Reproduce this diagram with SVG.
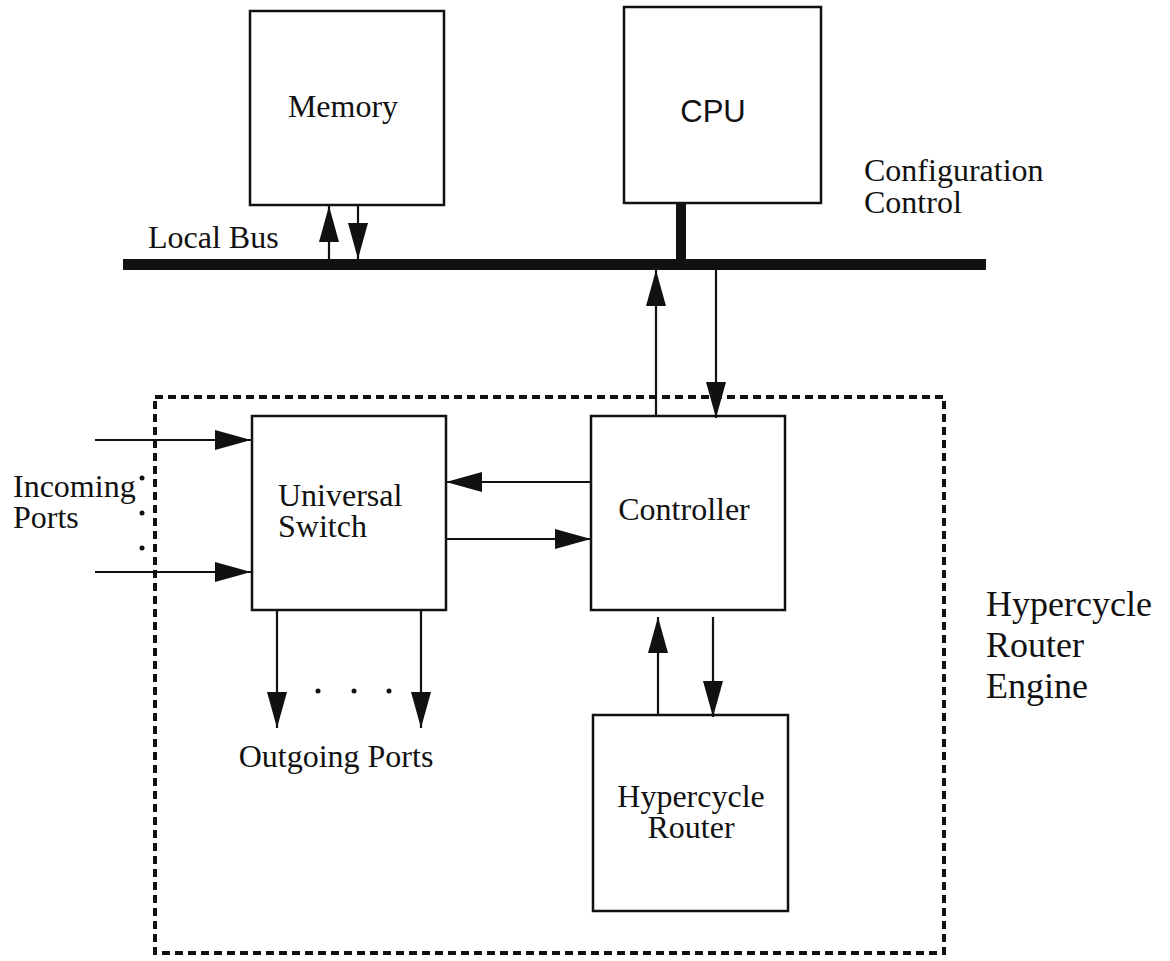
<svg xmlns="http://www.w3.org/2000/svg" width="1170" height="961" viewBox="0 0 1170 961">
<style>
.box{fill:#fff;stroke:#111;stroke-width:2.5}
.t{font-family:"Liberation Serif","Times New Roman",serif;font-size:32px;fill:#111}
.s{font-family:"Liberation Sans",Arial,sans-serif;font-size:31px;fill:#111}
.c{text-anchor:middle}
.ln{stroke:#111;stroke-width:2.2;fill:none;marker-end:url(#ah)}
.dash{fill:none;stroke:#111;stroke-width:4;stroke-dasharray:8 5}
</style>
<defs>
<marker id="ah" markerUnits="userSpaceOnUse" viewBox="0 0 36 20" refX="36" refY="10" markerWidth="36" markerHeight="20" orient="auto">
<path d="M0,0 L36,10 L0,20 z" fill="#111"/>
</marker>
</defs>
<rect width="1170" height="961" fill="#fff"/>

<g id="engine-boundary">
<rect class="dash" x="155" y="397" width="789" height="556"/>
<text class="t" style="font-size:36px" x="986" y="616">Hypercycle</text>
<text class="t" style="font-size:36px" x="986" y="657">Router</text>
<text class="t" style="font-size:36px" x="986" y="698">Engine</text>
</g>

<g id="local-bus">
<rect x="123" y="259" width="863" height="11" fill="#111"/>
<text class="t" x="148" y="248">Local Bus</text>
</g>

<g id="memory">
<rect class="box" x="250" y="11" width="194" height="194"/>
<text class="t c" x="343" y="117">Memory</text>
</g>

<g id="cpu">
<rect class="box" x="624" y="7" width="197" height="196"/>
<text class="s c" x="713" y="122">CPU</text>
<rect x="676" y="203" width="10" height="58" fill="#111"/>
</g>

<g id="config-label">
<text class="t" x="864" y="181">Configuration</text>
<text class="t" x="864" y="213">Control</text>
</g>

<g id="universal-switch">
<rect class="box" x="252" y="416" width="194" height="194"/>
<text class="t" x="278" y="506">Universal</text>
<text class="t" x="278" y="537">Switch</text>
</g>

<g id="controller">
<rect class="box" x="591" y="416" width="194" height="194"/>
<text class="t c" x="684" y="520">Controller</text>
</g>

<g id="hypercycle-router">
<rect class="box" x="593" y="715" width="195" height="196"/>
<text class="t c" x="691" y="807">Hypercycle</text>
<text class="t c" x="691" y="838">Router</text>
</g>

<g id="incoming-ports">
<text class="t" x="13" y="497">Incoming</text>
<text class="t" x="13" y="528">Ports</text>
<circle cx="142" cy="478" r="2.5" fill="#111"/>
<circle cx="142" cy="513" r="2.5" fill="#111"/>
<circle cx="142" cy="548" r="2.5" fill="#111"/>
</g>

<g id="outgoing-ports">
<text class="t c" x="336" y="767">Outgoing Ports</text>
<circle cx="318" cy="691" r="2.5" fill="#111"/>
<circle cx="354" cy="691" r="2.5" fill="#111"/>
<circle cx="389" cy="691" r="2.5" fill="#111"/>
</g>

<g id="connectors">
<line class="ln" x1="329" y1="259" x2="329" y2="206"/>
<line class="ln" x1="358" y1="205" x2="358" y2="259"/>
<line class="ln" x1="656" y1="415" x2="656" y2="270"/>
<line class="ln" x1="716" y1="270" x2="716" y2="418"/>
<line class="ln" x1="95" y1="440" x2="251" y2="440"/>
<line class="ln" x1="95" y1="572" x2="251" y2="572"/>
<line class="ln" x1="591" y1="482" x2="446" y2="482"/>
<line class="ln" x1="446" y1="539" x2="591" y2="539"/>
<line class="ln" x1="277" y1="610" x2="277" y2="728"/>
<line class="ln" x1="421" y1="610" x2="421" y2="728"/>
<line class="ln" x1="658" y1="715" x2="658" y2="617"/>
<line class="ln" x1="713" y1="617" x2="713" y2="717"/>
</g>
</svg>
